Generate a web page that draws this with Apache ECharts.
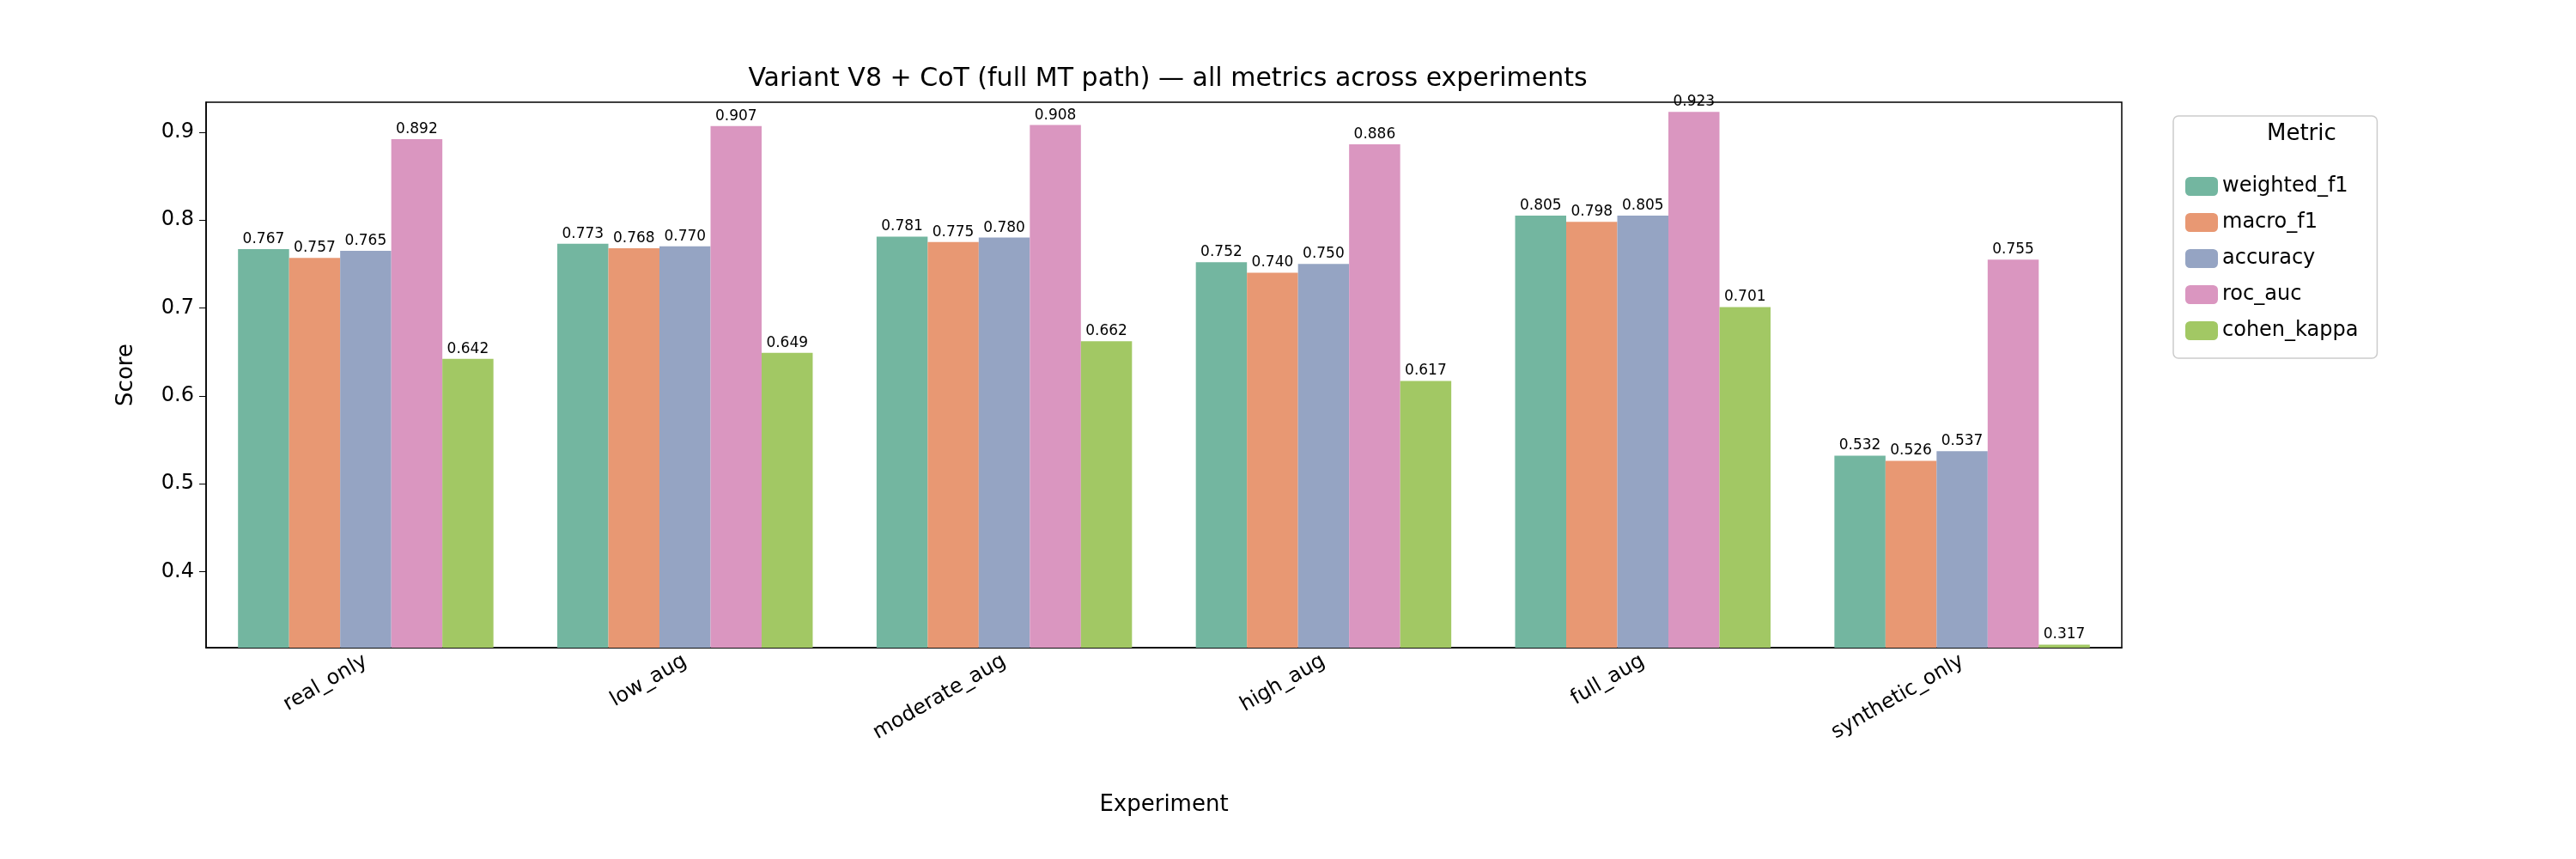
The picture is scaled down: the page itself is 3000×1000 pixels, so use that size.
<!DOCTYPE html>
<html>
<head>
<meta charset="UTF-8">
<title>Variant V8 + CoT</title>
<style>
  * { margin: 0; padding: 0; }
  html, body { width: 3000px; height: 1000px; background: #fff; }
  #chart { width: 3000px; height: 1000px; }
</style>
<script src="https://cdn.jsdelivr.net/npm/echarts@6/dist/echarts.min.js"></script>
</head>
<body>
<div id="chart"></div>
<script>
  const experiments = ['real_only', 'low_aug', 'moderate_aug', 'high_aug', 'full_aug', 'synthetic_only']
  const metrics = ['weighted_f1', 'macro_f1', 'accuracy', 'roc_auc', 'cohen_kappa']
  const colors = ['#73b6a0', '#e89873', '#95a4c3', '#da96c0', '#a2c864']
  const weightedF1 = [0.767, 0.773, 0.781, 0.752, 0.805, 0.532]
  const macroF1 = [0.757, 0.768, 0.775, 0.740, 0.798, 0.526]
  const accuracy = [0.765, 0.770, 0.780, 0.750, 0.805, 0.537]
  const rocAuc = [0.892, 0.907, 0.908, 0.886, 0.923, 0.755]
  const cohenKappa = [0.642, 0.649, 0.662, 0.617, 0.701, 0.317]
  const yTicks = [0.4, 0.5, 0.6, 0.7, 0.8, 0.9]

  const values = [weightedF1, macroF1, accuracy, rocAuc, cohenKappa]
  const font = 'DejaVu Sans'

  const chart = echarts.init(document.getElementById('chart'))
  chart.setOption({
    animation: false,
    textStyle: { fontFamily: font, color: '#000' },
    title: {
      text: 'Variant V8 + CoT (full MT path) \u2014 all metrics across experiments',
      left: 1355, top: 72, textAlign: 'center',
      textStyle: { fontFamily: font, fontSize: 30, fontWeight: 'normal', color: '#000' }
    },
    grid: {
      left: 240, right: 529, top: 119, bottom: 246,
      show: true, borderColor: '#000', borderWidth: 1.5
    },
    legend: {
      orient: 'vertical', left: 2531, top: 135,
      padding: [70, 22, 20, 14], itemGap: 18,
      itemWidth: 38, itemHeight: 22,
      borderColor: '#ccc', borderWidth: 1.5, borderRadius: 6,
      textStyle: { fontFamily: font, fontSize: 24, color: '#000' },
      data: metrics
    },
    graphic: [{
      type: 'text', left: 2640, top: 143,
      style: { text: 'Metric', font: '26px "DejaVu Sans"', fill: '#000' }
    }],
    xAxis: {
      type: 'category', data: experiments,
      name: 'Experiment', nameLocation: 'middle', nameGap: 170,
      nameTextStyle: { fontFamily: font, fontSize: 26, color: '#000' },
      axisLine: { lineStyle: { color: '#000', width: 1.5 } },
      axisTick: { alignWithLabel: true, length: 8, lineStyle: { color: '#000' } },
      axisLabel: { rotate: 30, fontSize: 24, color: '#000', margin: 14, fontFamily: font }
    },
    yAxis: {
      type: 'value', min: 0.3135, max: 0.934,
      name: 'Score', nameLocation: 'middle', nameGap: 80,
      nameTextStyle: { fontFamily: font, fontSize: 26, color: '#000' },
      splitLine: { show: false },
      axisLine: { show: true, lineStyle: { color: '#000', width: 1.5 } },
      axisTick: { show: true, length: 8, customValues: yTicks, lineStyle: { color: '#000' } },
      axisLabel: {
        fontSize: 24, color: '#000', margin: 14, fontFamily: font,
        customValues: yTicks, formatter: v => v.toFixed(1)
      }
    },
    series: metrics.map((m, i) => ({
      name: m, type: 'bar', data: values[i],
      barGap: '0%', barCategoryGap: '20%',
      itemStyle: { color: colors[i] },
      label: {
        show: true, position: 'top', distance: 3,
        fontSize: 17, color: '#000', fontFamily: font,
        formatter: p => p.value.toFixed(3)
      }
    }))
  })
</script>
</body>
</html>
